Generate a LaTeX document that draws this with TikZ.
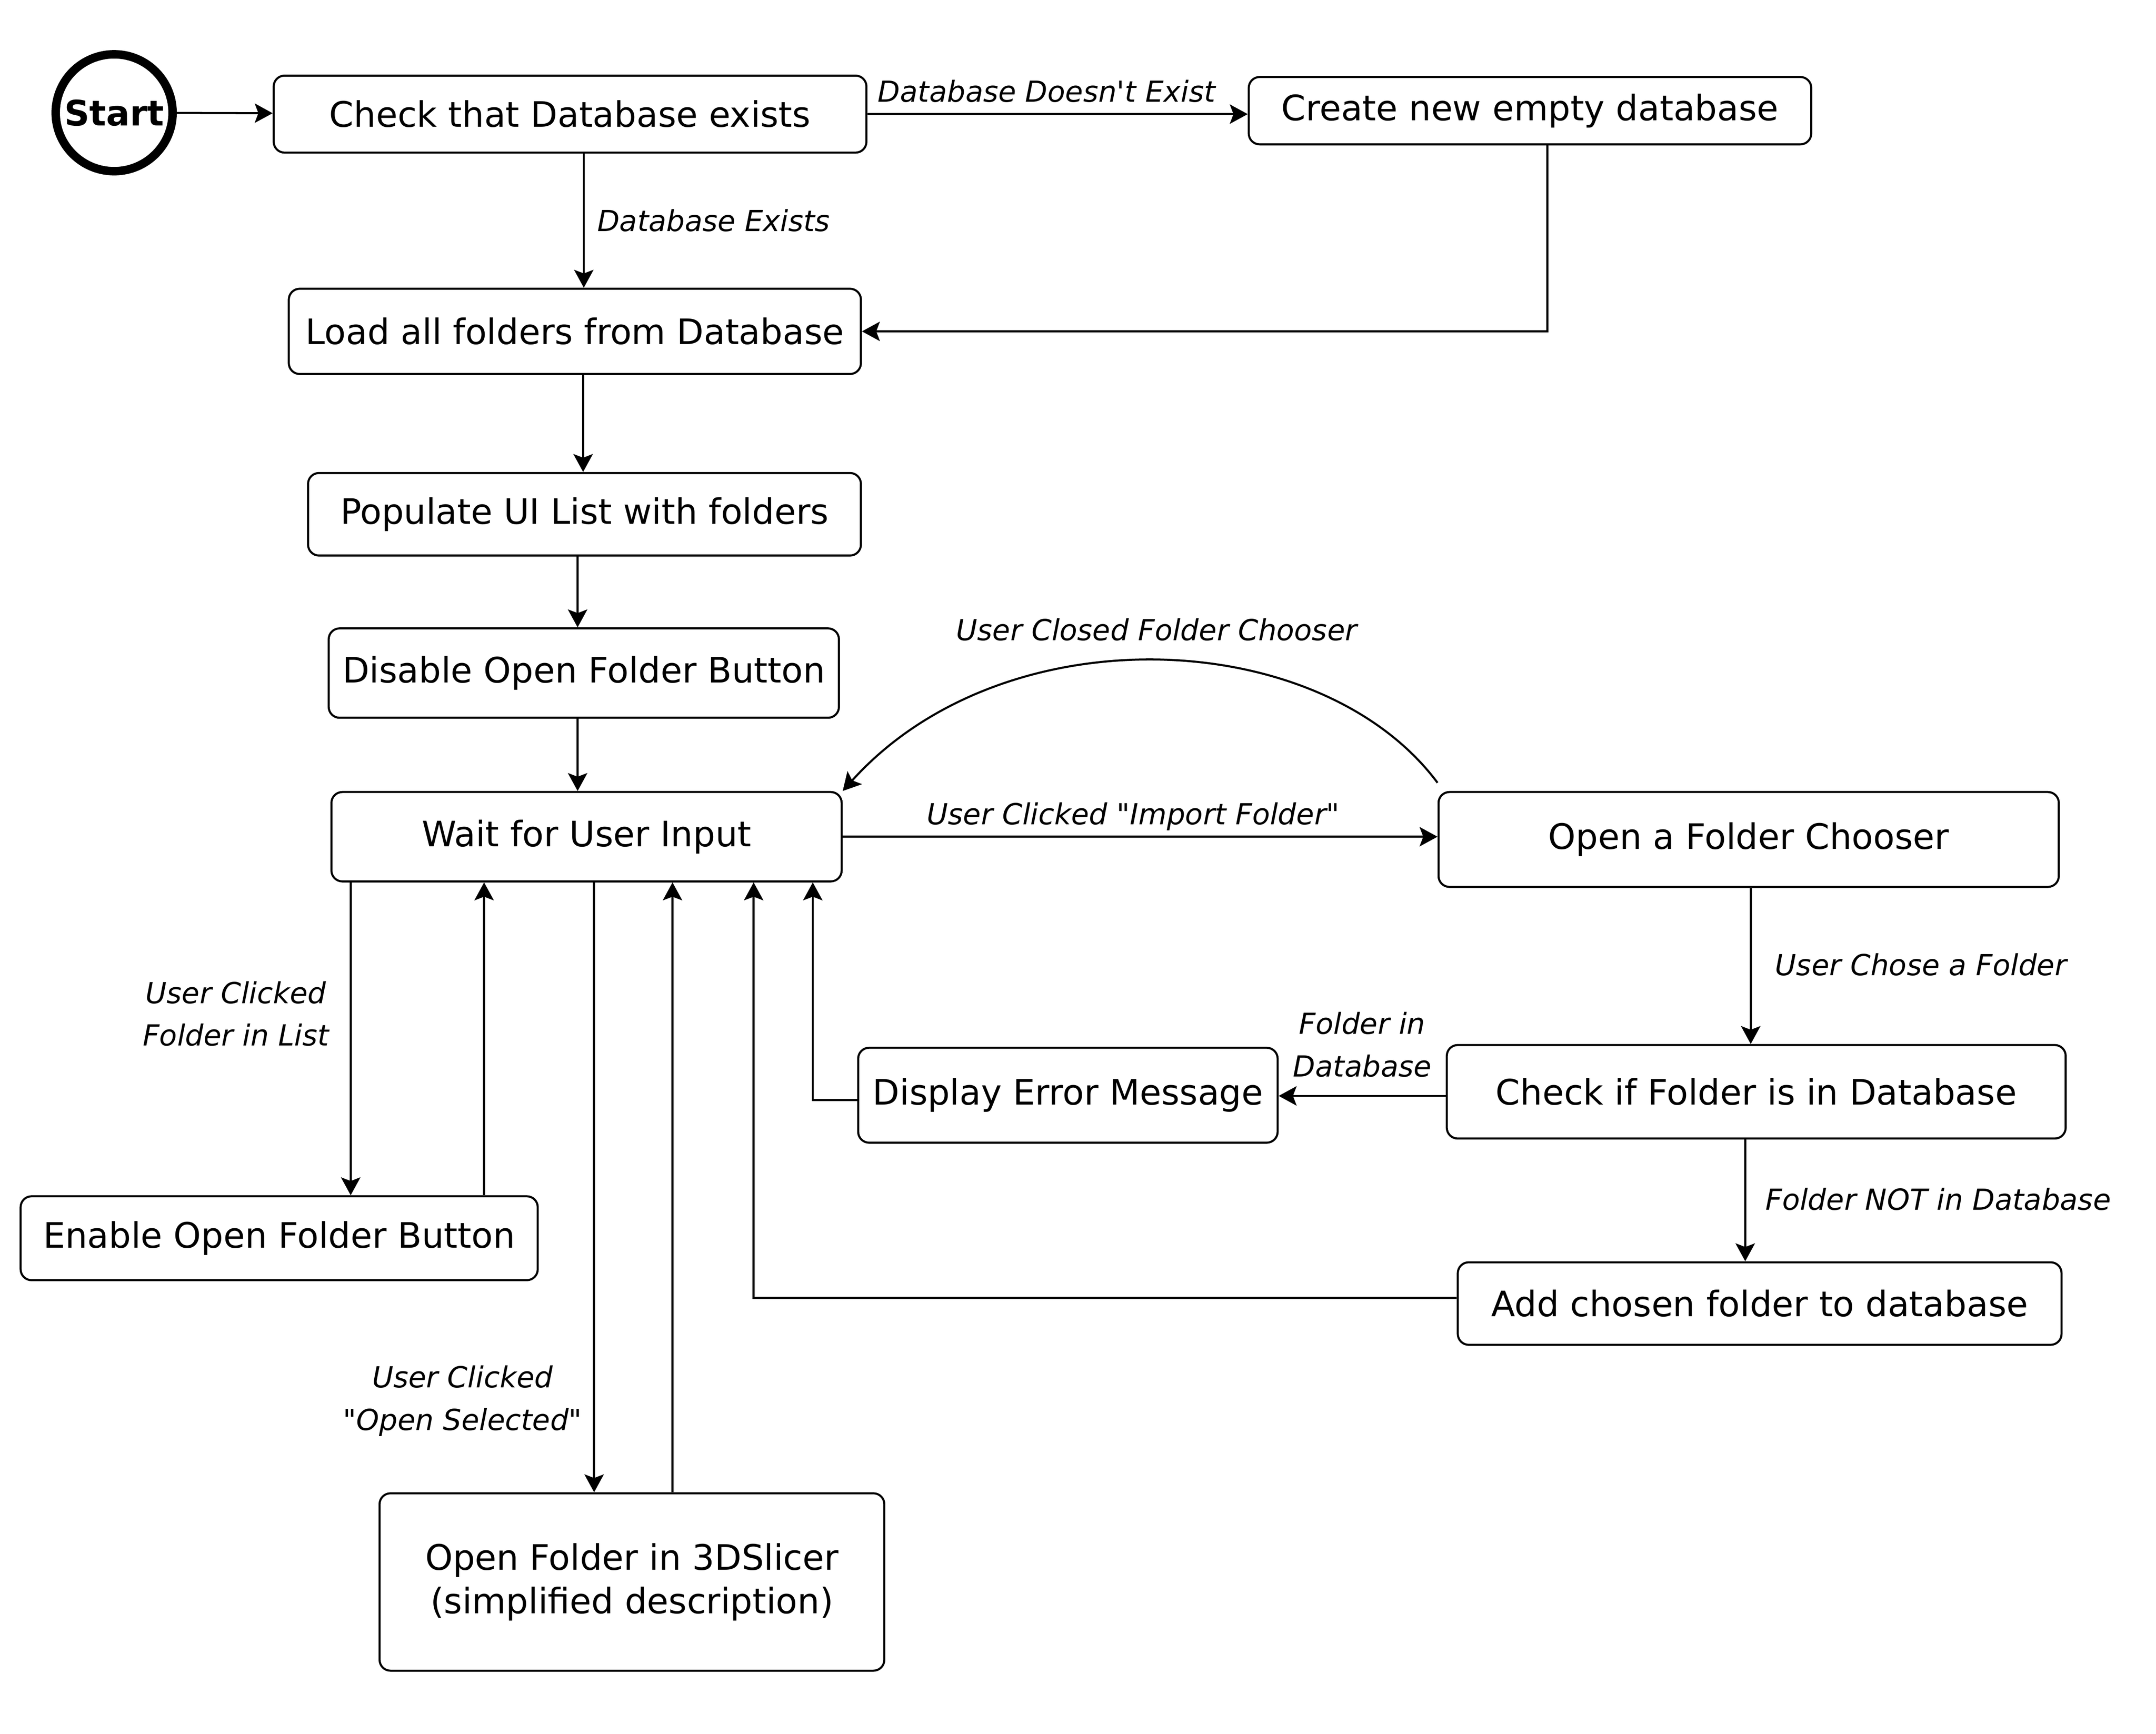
\documentclass[tikz,border=0pt]{standalone}
\usepackage{fontspec}
\setmainfont{DejaVu Sans}
\usetikzlibrary{arrows.meta}
\tikzset{
	box/.style={draw, line width=0.85pt, rounded corners=4.5pt, inner sep=0pt, align=center, font=\fontsize{14.5}{18}\selectfont},
	arr/.style={line width=0.85pt, -{Stealth[length=7.4pt,width=8pt,inset=1.5pt]}},
	lbl/.style={font=\fontsize{12}{17.6}\selectfont\itshape, align=center, inner sep=0pt},
}

\begin{document}
\begin{tikzpicture}
		%%%%% START %%%%%
		\useasboundingbox (0,0) rectangle (31.354,-25.216);
		
		\node[circle, draw, line width=3.5pt, minimum size=1.70cm, inner sep=0pt, font=\fontsize{14.5}{18}\selectfont\bfseries] (start) at (1.66,-1.64) {Start};
		\node[box, minimum width=8.62cm, minimum height=1.12cm] (check) at (8.29,-1.66) {Check that Database exists};
		\node[box, minimum width=8.18cm, minimum height=0.98cm] (create) at (22.25,-1.61) {Create new empty database};
		\node[box, minimum width=8.32cm, minimum height=1.24cm] (load) at (8.36,-4.82) {Load all folders from Database};
		\node[box, minimum width=8.04cm, minimum height=1.20cm] (populate) at (8.50,-7.48) {Populate UI List with folders};
		\node[box, minimum width=7.42cm, minimum height=1.30cm] (disable) at (8.49,-9.79) {Disable Open Folder Button};
		\node[box, minimum width=7.42cm, minimum height=1.30cm] (wait) at (8.53,-12.17) {Wait for User Input};
		\node[box, minimum width=9.02cm, minimum height=1.38cm] (chooser) at (25.43,-12.21) {Open a Folder Chooser};
		\node[box, minimum width=9.00cm, minimum height=1.36cm] (checkf) at (25.54,-15.88) {Check if Folder is in Database};
		\node[box, minimum width=6.10cm, minimum height=1.38cm] (error) at (15.53,-15.93) {Display Error Message};
		\node[box, minimum width=8.78cm, minimum height=1.20cm] (add) at (25.59,-18.96) {Add chosen folder to database};
		\node[box, minimum width=7.52cm, minimum height=1.22cm] (enable) at (4.06,-18.01) {Enable Open Folder Button};
		\node[box, minimum width=7.34cm, minimum height=2.58cm] (openf) at (9.19,-23.01) {Open Folder in 3DSlicer\\(simplified description)};
		
		% top row
		\draw[arr] (start) -- (check);
		\draw[arr] (check.east) -- (check.east -| create.west) node[lbl, midway, anchor=base, yshift=5pt, xshift=-0.16cm] {Database Doesn\textquotesingle t Exist};
		\draw[arr] ([xshift=0.2cm]check.south) -- ([xshift=0.2cm]check.south |- load.north) node[lbl, midway, right=0.18cm] {Database Exists};
		\draw[arr] ([xshift=0.25cm]create.south) |- (load.east);
		
		% down the left column
		\draw[arr] ([xshift=0.12cm]load.south) -- ([xshift=0.12cm]load.south |- populate.north);
		\draw[arr] ([xshift=-0.1cm]populate.south) -- ([xshift=-0.1cm]populate.south |- disable.north);
		\draw[arr] ([xshift=-0.09cm]disable.south) -- ([xshift=-0.09cm]disable.south |- wait.north);
		
		% folder chooser
		\draw[arr] (wait.east) -- (wait.east -| chooser.west) node[lbl, midway, anchor=base, yshift=5pt, xshift=-0.1cm] {User Clicked \textquotedbl Import Folder\textquotedbl};
		\draw[arr] ([yshift=0.12cm]chooser.north west) .. controls (19.2,-9.1) and (14.6,-8.9) .. (wait.north east) node[lbl, pos=0.5, anchor=base, yshift=8.5pt] {User Closed Folder Chooser};
		\draw[arr] ([xshift=0.03cm]chooser.south) -- ([xshift=0.03cm]chooser.south |- checkf.north) node[lbl, pos=0.49, right=0.34cm] {User Chose a Folder};
		\draw[arr] ([yshift=-0.06cm]checkf.west) -- ([yshift=-0.06cm]checkf.west -| error.east) node[lbl, midway, anchor=south, yshift=7.4pt] {Folder in\\Database};
		\draw[arr] ([yshift=-0.07cm]error.west) -| ([xshift=3.29cm]wait.south);
		\draw[arr] ([xshift=-0.16cm]checkf.south) -- ([xshift=-0.16cm]checkf.south |- add.north) node[lbl, pos=0.49, right=0.28cm] {Folder NOT in Database};
		\draw[arr] ([yshift=0.08cm]add.west) -| ([xshift=2.43cm]wait.south);
		
		% list and open buttons
		\draw[arr] ([xshift=-3.43cm]wait.south) -- ([xshift=-3.43cm]wait.south |- enable.north) node[lbl, pos=0.42, left=0.3cm] {User Clicked\\Folder in List};
		\draw[arr] ([xshift=2.98cm]enable.north) -- ([xshift=2.98cm]enable.north |- wait.south);
		\draw[arr] ([xshift=0.11cm]wait.south) -- ([xshift=0.11cm]wait.south |- openf.north) node[lbl, pos=0.85, left=0.16cm] {User Clicked\\\textquotedbl Open Selected\textquotedbl};
		\draw[arr] ([xshift=0.59cm]openf.north) -- ([xshift=0.59cm]openf.north |- wait.south);
		
		%%%%% END %%%%%
\end{tikzpicture}
\end{document}
